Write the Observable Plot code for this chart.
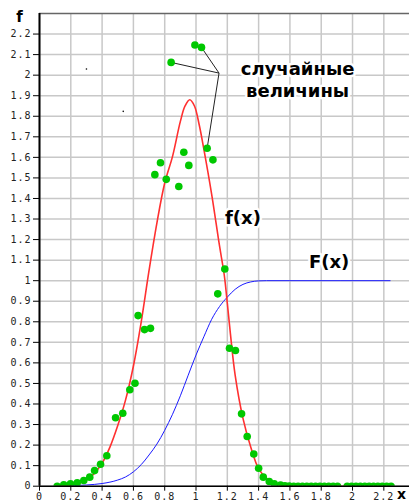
<!DOCTYPE html>
<html><head><meta charset="utf-8">
<script src="https://cdn.jsdelivr.net/npm/d3@7"></script>
<script src="https://cdn.jsdelivr.net/npm/@observablehq/plot@0.6"></script>
<style>
html,body{margin:0;padding:0;background:#fff;overflow:hidden}
g[aria-label$="tick label"] text{letter-spacing:1px}
</style>
</head><body><div id="chart"></div>
<script>
const xTicks = [0, 0.2, 0.4, 0.6, 0.8, 1, 1.2, 1.4, 1.6, 1.8, 2, 2.2];
const yTicks = [0, 0.1, 0.2, 0.3, 0.4, 0.5, 0.6, 0.7, 0.8, 0.9, 1, 1.1, 1.2, 1.3, 1.4, 1.5, 1.6, 1.7, 1.8, 1.9, 2, 2.1, 2.2];

// density f(x)
const fX = [0.10,0.15,0.20,0.25,0.30,0.35,0.40,0.45,0.50,0.55,0.60,0.65,0.70,0.75,0.80,0.85,0.90,0.93,0.96,0.99,1.02,1.05,1.10,1.15,1.18,1.20,1.22,1.25,1.30,1.35,1.40,1.45,1.50,1.55,1.60,1.70,1.80,1.90,2.00,2.10,2.24];
const fY = [0.000,0.002,0.006,0.014,0.030,0.062,0.112,0.190,0.295,0.420,0.585,0.800,1.050,1.280,1.475,1.605,1.775,1.850,1.880,1.850,1.760,1.640,1.420,1.170,1.030,0.890,0.740,0.540,0.330,0.190,0.085,0.038,0.014,0.005,0.002,0.000,0.000,0.000,0.000,0.000,0.000];

// distribution F(x)
const FX = [0.10,0.20,0.30,0.40,0.50,0.55,0.60,0.65,0.70,0.75,0.80,0.85,0.90,0.95,1.00,1.05,1.10,1.15,1.20,1.25,1.30,1.35,1.40,1.45,1.60,2.24];
const FY = [0.000,0.002,0.006,0.013,0.030,0.045,0.070,0.105,0.152,0.205,0.272,0.350,0.440,0.540,0.638,0.727,0.812,0.874,0.920,0.958,0.982,0.994,0.999,1.000,1.000,1.000];

// random values (green dots)
const rX = [0.113,0.155,0.198,0.241,0.283,0.321,0.352,0.390,0.430,0.486,0.532,0.577,0.610,0.630,0.671,0.709,0.737,0.773,0.810,0.841,0.890,0.922,0.954,0.993,1.035,1.071,1.108,1.139,1.184,1.214,1.252,1.291,1.327,1.369,1.400,1.430,1.468,1.500,1.540,1.568,1.596,1.624,1.652,1.680,1.708,1.736,1.764,1.792,1.820,1.848,1.876,1.904,1.966,1.994,2.022,2.050,2.078,2.106,2.134,2.162,2.190,2.218,2.246];
const rY = [0.000,0.007,0.012,0.017,0.028,0.044,0.076,0.107,0.148,0.333,0.355,0.469,0.501,0.830,0.762,0.768,1.516,1.574,1.493,2.062,1.458,1.625,1.561,2.147,2.135,1.644,1.588,0.936,1.057,0.671,0.660,0.352,0.242,0.157,0.087,0.044,0.023,0.012,0.005,0.002,0.001,0,0,0,0,0,0,0,0,0,0,0,0,0,0,0,0,0,0,0,0,0,0];

// callout: label anchor -> three highlighted random values
const calloutFrom = [1.147, 2.010];
const calloutTo = [19, 24, 25];

const labelLines = ["случайные", "величины"];

const fTable = fX.map((x, i) => ({x, y: fY[i]}));
const FTable = FX.map((x, i) => ({x, y: FY[i]}));
const rTable = rX.map((x, i) => ({x, y: rY[i]}));
const links = calloutTo.map(i => ({x1: calloutFrom[0], y1: calloutFrom[1], x2: rX[i], y2: rY[i]}));

const fmt = d => String(d);
const labelStyle = {fontFamily: "DejaVu Sans", fontWeight: "bold", textAnchor: "middle", fill: "#000", stroke: "#fff", strokeWidth: 5};
const chart = Plot.plot({
  width: 409,
  height: 504,
  marginLeft: 39,
  marginRight: 0,
  marginTop: 13,
  marginBottom: 18.3,
  x: {domain: [0, 2.364]},
  y: {domain: [0, 2.3]},
  style: {fontFamily: "DejaVu Sans Mono", background: "#fff", color: "#222"},
  marks: [
    Plot.gridX(xTicks, {stroke: "#c8c8c8", strokeOpacity: 1, strokeWidth: 1.5}),
    Plot.gridY(yTicks, {stroke: "#c8c8c8", strokeOpacity: 1, strokeWidth: 1.5}),
    Plot.ruleY([2.3], {stroke: "#666", strokeWidth: 1.5}),
    Plot.line(FTable, {x: "x", y: "y", stroke: "#1a1aff", strokeWidth: 1, curve: "monotone-x", clip: true}),
    Plot.line(fTable, {x: "x", y: "y", stroke: "#ff3030", strokeWidth: 1.6, curve: "catmull-rom", clip: true}),
    Plot.link(links, {x1: "x1", y1: "y1", x2: "x2", y2: "y2", stroke: "#222", strokeWidth: 1}),
    Plot.dot(rTable, {x: "x", y: "y", r: 3.8, fill: "#00c800", stroke: "none", clip: true}),
    Plot.dot([[0.30, 2.03], [0.535, 1.824]], {r: 0.8, fill: "#000"}),
    Plot.ruleX([0], {stroke: "#000", strokeWidth: 2}),
    Plot.ruleY([0], {stroke: "#000", strokeWidth: 1.5}),
    Plot.axisX(xTicks, {tickSize: 5, tickPadding: 2, fontSize: 10, label: null, tickFormat: fmt, stroke: "#000", fill: "#222"}),
    Plot.axisY(yTicks, {tickSize: 6, tickPadding: 2, fontSize: 10, label: null, tickFormat: fmt, stroke: "#000", fill: "#222"}),
    Plot.text([labelLines[0]], {x: 1.649, y: 2.027, fontSize: 18, ...labelStyle, style: "letter-spacing:2.5px"}),
    Plot.text([labelLines[1]], {x: 1.649, y: 1.924, fontSize: 18, ...labelStyle, style: "letter-spacing:2.5px"}),
    Plot.text(["f(x)"], {x: 1.30, y: 1.302, fontSize: 18, ...labelStyle}),
    Plot.text(["F(x)"], {x: 1.85, y: 1.09, fontSize: 18, ...labelStyle}),
    Plot.text(["f"], {frameAnchor: "top-left", dx: -20, dy: 4, fontFamily: "DejaVu Sans", fontWeight: "bold", fontSize: 15, textAnchor: "middle", lineAnchor: "middle", fill: "#000"}),
    Plot.text(["x"], {frameAnchor: "bottom-right", dx: -8, dy: 8, fontFamily: "DejaVu Sans", fontWeight: "bold", fontSize: 14, textAnchor: "middle", lineAnchor: "middle", fill: "#000"})
  ]
});
document.getElementById("chart").appendChild(chart);
</script>
</body></html>
